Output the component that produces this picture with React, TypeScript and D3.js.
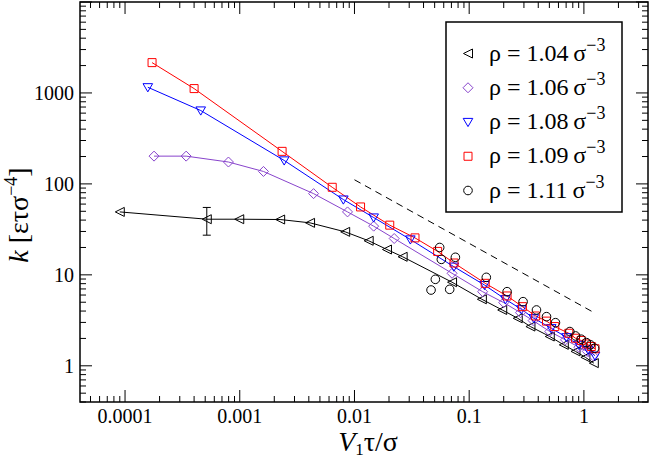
import * as d3 from "d3";

const W = 654;
const H = 462;
const FONT = "'Liberation Serif', serif";

// rho = 1.04 (black, left triangles)
const x104 = [9.0e-5, 5.16e-4, 9.9e-4, 2.25e-3, 4.1e-3, 8.3e-3, 0.0133, 0.0192, 0.0263, 0.0709, 0.129, 0.194, 0.265, 0.342, 0.504, 0.668, 0.845, 1.03, 1.22];
const y104 = [49.2, 40.9, 40.9, 40.6, 37.3, 29.7, 23.7, 19.0, 15.8, 8.3, 5.39, 4.11, 3.33, 2.7, 2.1, 1.7, 1.44, 1.24, 1.07];
// error bar on the second rho = 1.04 point
const errX = 5.16e-4;
const errLow = 27.3;
const errHigh = 55.1;

// rho = 1.06 (violet, diamonds)
const x106 = [1.79e-4, 3.41e-4, 7.97e-4, 1.61e-3, 4.4e-3, 8.7e-3, 0.0147, 0.0222, 0.0709, 0.131, 0.2, 0.28, 0.361, 0.504, 0.691, 0.904, 1.07, 1.2];
const y106 = [202, 202, 174, 137, 78.2, 49.2, 34.3, 25.1, 10.4, 6.53, 4.95, 3.84, 3.14, 2.38, 1.93, 1.6, 1.44, 1.29];

// rho = 1.08 (blue, down triangles)
const x108 = [1.58e-4, 4.57e-4, 2.44e-3, 8.0e-3, 0.0147, 0.0307, 0.0735, 0.136, 0.207, 0.285, 0.366, 0.519, 0.705, 0.904, 1.09, 1.25];
const y108 = [1155, 641, 181, 67.3, 42.7, 24.5, 12.3, 7.73, 5.39, 4.18, 3.33, 2.59, 2.06, 1.7, 1.5, 1.29];

// rho = 1.09 (red, squares)
const x109 = [1.72e-4, 4.0e-4, 2.34e-3, 6.4e-3, 0.0113, 0.0203, 0.0337, 0.0531, 0.0738, 0.138, 0.214, 0.291, 0.38, 0.472, 0.557, 0.738, 0.845, 0.947, 1.05, 1.16, 1.25];
const y109 = [2155, 1117, 228, 91.8, 55.8, 35.2, 25.5, 18.1, 13.5, 8.07, 5.86, 4.47, 3.53, 3.1, 2.7, 2.28, 2.01, 1.9, 1.74, 1.63, 1.54];

// rho = 1.11 (black, circles, no line)
const x111 = [0.0553, 0.0572, 0.0758, 0.0507, 0.0465, 0.0676, 0.141, 0.214, 0.295, 0.386, 0.472, 0.565, 0.754, 0.845, 0.947, 1.05, 1.14, 1.24];
const y111 = [20.0, 14.8, 15.6, 8.93, 6.81, 6.93, 9.39, 6.53, 5.07, 4.11, 3.47, 2.98, 2.38, 2.13, 1.96, 1.8, 1.7, 1.56];

// dashed guide line
const guideX = [0.01, 1.2];
const guideY = [111, 3.9];

const xTickValues = [1e-4, 1e-3, 1e-2, 0.1, 1];
const xTickLabels = ["0.0001", "0.001", "0.01", "0.1", "1"];
const yTickValues = [1, 10, 100, 1000];
const yTickLabels = ["1", "10", "100", "1000"];

const densityLabels = ["1.04", "1.06", "1.08", "1.09", "1.11"];

type Shape = "left" | "diamond" | "down" | "square" | "circle";

const series: { xs: number[]; ys: number[]; color: string; shape: Shape; line: boolean }[] = [
    { xs: x104, ys: y104, color: "#000000", shape: "left", line: true },
    { xs: x106, ys: y106, color: "#8844cc", shape: "diamond", line: true },
    { xs: x108, ys: y108, color: "#0000ff", shape: "down", line: true },
    { xs: x109, ys: y109, color: "#ff0000", shape: "square", line: true },
    { xs: x111, ys: y111, color: "#000000", shape: "circle", line: false },
];

function markerPath(shape: Shape) {
    switch (shape) {
        case "left":
            return "M-4.5,0L4.5,-4.5L4.5,4.5Z";
        case "down":
            return "M-4.8,-3.6L4.8,-3.6L0,4.6Z";
        case "diamond":
            return "M0,-5L5,0L0,5L-5,0Z";
        case "square":
            return "M-4,-4L4,-4L4,4L-4,4Z";
        default:
            return "M4.3,0A4.3,4.3 0 1,1 -4.3,0A4.3,4.3 0 1,1 4.3,0Z";
    }
}

function Marker({ x, y, shape, color }: { x: number; y: number; shape: Shape; color: string }) {
    return <path d={markerPath(shape)} transform={`translate(${x},${y})`} fill="none" stroke={color} strokeWidth={1} />;
}

export default function App() {
    const left = 80;
    const right = 648;
    const top = 2;
    const bottom = 402;

    const x = d3.scaleLog().domain([4.05e-5, 3.62]).range([left, right]);
    const y = d3.scaleLog().domain([0.4, 10000]).range([bottom, top]);

    const isMajor = (v: number) => Math.abs(Math.log10(v) - Math.round(Math.log10(v))) < 1e-6;
    const xTicks = x.ticks();
    const yTicks = y.ticks();

    const pathFor = (xs: number[], ys: number[]) =>
        d3
            .line<[number, number]>()
            .x((d) => x(d[0]))
            .y((d) => y(d[1]))(xs.map((v, i) => [v, ys[i]]));

    const legendX = 446;
    const legendY = 22;
    const legendW = 176;
    const legendH = 190;
    const rowStep = 34.25;

    return (
        <div style={{ position: "absolute", left: 0, top: 0 }}>
            <svg width={W} height={H} style={{ display: "block", background: "#fff", fontFamily: FONT }}>
                {/* dashed guide */}
                <path d={pathFor(guideX, guideY) ?? ""} fill="none" stroke="#000" strokeWidth={1} strokeDasharray="7,5" />

                {/* series lines */}
                {series
                    .filter((s) => s.line)
                    .map((s, i) => (
                        <path key={`l${i}`} d={pathFor(s.xs, s.ys) ?? ""} fill="none" stroke={s.color} strokeWidth={1} />
                    ))}

                {/* error bar */}
                <g stroke="#000" strokeWidth={1}>
                    <line x1={x(errX)} x2={x(errX)} y1={y(errLow)} y2={y(errHigh)} />
                    <line x1={x(errX) - 4} x2={x(errX) + 4} y1={y(errLow)} y2={y(errLow)} />
                    <line x1={x(errX) - 4} x2={x(errX) + 4} y1={y(errHigh)} y2={y(errHigh)} />
                </g>

                {/* markers */}
                {series.map((s, i) => (
                    <g key={`m${i}`}>
                        {s.xs.map((v, j) => (
                            <Marker key={j} x={x(v)} y={y(s.ys[j])} shape={s.shape} color={s.color} />
                        ))}
                    </g>
                ))}

                {/* frame */}
                <rect x={left} y={top} width={right - left} height={bottom - top} fill="none" stroke="#000" strokeWidth={1.5} />

                {/* ticks on all four sides, pointing inward */}
                <g stroke="#000" strokeWidth={1}>
                    {xTicks.map((t, i) => {
                        const len = isMajor(t) ? 12 : 6;
                        const px = x(t);
                        return (
                            <g key={i}>
                                <line x1={px} x2={px} y1={bottom} y2={bottom - len} />
                                <line x1={px} x2={px} y1={top} y2={top + len} />
                            </g>
                        );
                    })}
                    {yTicks.map((t, i) => {
                        const len = isMajor(t) ? 12 : 6;
                        const py = y(t);
                        return (
                            <g key={i}>
                                <line x1={left} x2={left + len} y1={py} y2={py} />
                                <line x1={right} x2={right - len} y1={py} y2={py} />
                            </g>
                        );
                    })}
                </g>

                {/* tick labels */}
                <g fill="#000" style={{ fontFamily: FONT, fontSize: 20 }}>
                    {xTickValues.map((t, i) => (
                        <text key={i} x={x(t)} y={423} textAnchor="middle">
                            {xTickLabels[i]}
                        </text>
                    ))}
                    {yTickValues.map((t, i) => (
                        <text key={i} x={74} y={y(t) + 7} textAnchor="end">
                            {yTickLabels[i]}
                        </text>
                    ))}
                </g>

                {/* axis titles */}
                <text x={368} y={451} textAnchor="middle" style={{ fontFamily: FONT, fontSize: 28 }}>
                    <tspan fontStyle="italic">V</tspan>
                    <tspan dy={4} style={{ fontSize: 17 }}>1</tspan>
                    <tspan dy={-4}>τ/σ</tspan>
                </text>
                <text transform="translate(28,215) rotate(-90)" textAnchor="middle" style={{ fontFamily: FONT, fontSize: 28 }}>
                    <tspan fontStyle="italic">k</tspan>
                    <tspan> [ετσ</tspan>
                    <tspan dy={-11} style={{ fontSize: 18 }}>−4</tspan>
                    <tspan dy={11}>]</tspan>
                </text>

                {/* legend */}
                <rect x={legendX} y={legendY} width={legendW} height={legendH} fill="#fff" stroke="#000" strokeWidth={1.5} />
                {series.map((s, i) => {
                    const cy = legendY + 31.5 + i * rowStep;
                    return (
                        <g key={`lg${i}`}>
                            <Marker x={468} y={cy} shape={s.shape} color={s.color} />
                            <text x={489} y={cy + 7} style={{ fontFamily: FONT, fontSize: 24 }}>
                                {`ρ = ${densityLabels[i]}\u2009σ`}
                                <tspan dy={-10} style={{ fontSize: 18 }}>−3</tspan>
                            </text>
                        </g>
                    );
                })}
            </svg>
        </div>
    );
}
